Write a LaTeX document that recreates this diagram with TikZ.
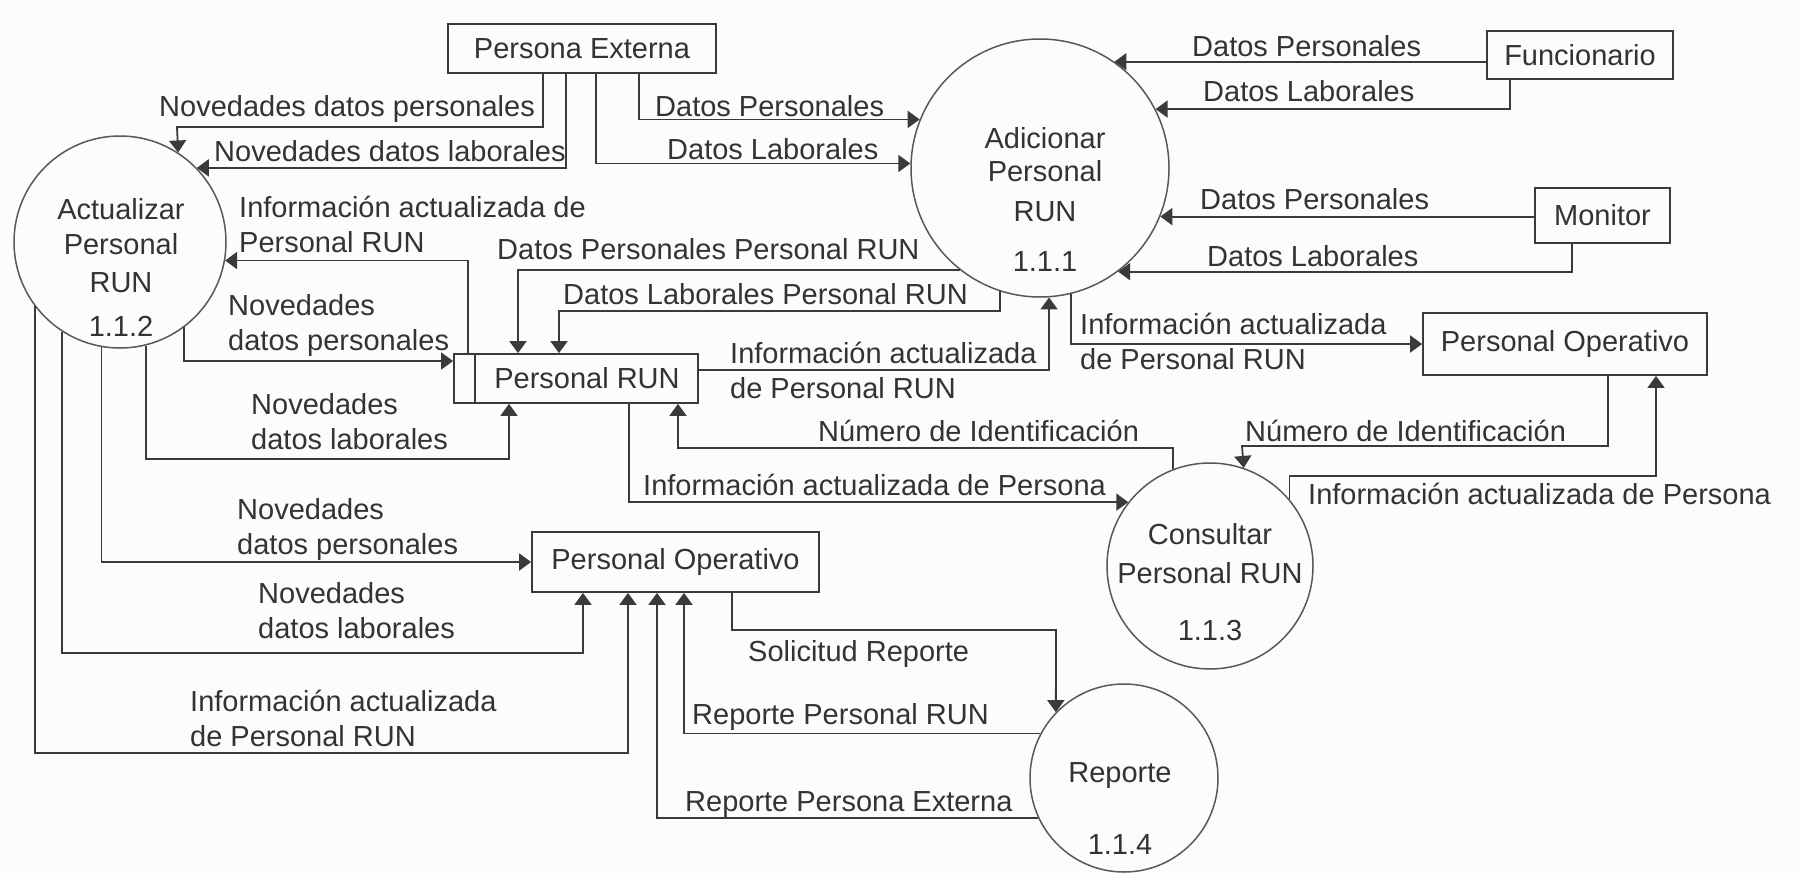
\documentclass[tikz,border=0pt]{standalone}
\usepackage{fontspec}
\setmainfont{Liberation Sans}
\usetikzlibrary{arrows.meta,calc}
\definecolor{ink}{HTML}{3A3A3A}
\definecolor{txt}{HTML}{333333}
\definecolor{bg}{HTML}{FCFCFC}
\begin{document}
\begin{tikzpicture}[x=1pt,y=-1pt,
  every node/.style={font=\fontsize{29}{35}\selectfont, text=txt},
  ent/.style={draw=ink, line width=1.8pt, rectangle, inner sep=0pt},
  proc/.style={draw=ink!85, line width=1.5pt, circle, inner sep=0pt},
  lbl/.style={inner sep=0pt, anchor=base west, align=left},
  ptext/.style={inner sep=0pt, anchor=base, align=center},
  flow/.style={draw=ink, line width=1.8pt, -{Triangle[length=12pt,width=17pt]}},
]
\useasboundingbox (0,0) rectangle (1800,873);
\fill[bg] (0,0) rectangle (1800,873);

% entities
\node[ent, minimum width=268pt, minimum height=49pt] (PE) at (582,48.5) {Persona Externa};
\node[ent, minimum width=186pt, minimum height=48pt] (Fun) at (1580,55) {Funcionario};
\node[ent, minimum width=135pt, minimum height=55pt] (Mon) at (1602.5,215.5) {Monitor};
\node[ent, minimum width=284pt, minimum height=62pt] (POR) at (1565,344) {Personal Operativo};
\node[ent, minimum width=287pt, minimum height=60pt] (POB) at (675.5,562) {Personal Operativo};
\node[ent, minimum width=244pt, minimum height=49pt] (Store) at (576,378.5) {\hspace*{22pt}Personal RUN};
\draw[ink, line width=1.8pt] ([xshift=22pt]Store.north west) -- ([xshift=22pt]Store.south west);

% processes
\node[proc, minimum size=212pt] (Act) at (120,242) {};
\node[proc, minimum size=258pt] (Adi) at (1040,168) {};
\node[proc, minimum size=206pt] (Con) at (1210,566) {};
\node[proc, minimum size=188pt] (Rep) at (1124,778) {};
% (base anchor of a multi-line node = baseline of its last line)
\node[ptext] (ActT) at (121,336) {Actualizar\\Personal\\[3pt]RUN\\[9pt]1.1.2};
\node[ptext] (AdiT) at (1045,271) {Adicionar\\[-2pt]Personal\\[5pt]RUN\\[15pt]1.1.1};
\node[ptext] (ConT) at (1210,640) {Consultar\\[4pt]Personal RUN\\[22pt]1.1.3};
\node[ptext] (RepT) at (1120,854) {Reporte\\[37pt]1.1.4};

% bend points
\coordinate (ndp) at (177,127);
\coordinate (dlp) at (559,311);
\coordinate (ndl) at (509,459);
\coordinate (ndl2) at (583,653);
\coordinate (iap) at (628,753);
\coordinate (ni) at (678,448);
\coordinate (ni2) at (1242,446);
\coordinate (iap2) at (1656,476);
\coordinate (sr) at (1056,630);

% flows
\draw[flow] ([xshift=-39pt]PE.south) |- (ndp) -- (Act.57.5);
\draw[flow] ([xshift=-16pt]PE.south) |- (Act.44.3);
\draw[flow] ([xshift=57pt]PE.south) |- (Adi.158.2);
\draw[flow] ([xshift=14pt]PE.south) |- (Adi.178.7);
\draw[flow] (Fun.west |- Adi.55.3) -- (Adi.55.3);
\draw[flow] ([xshift=-70pt]Fun.south) |- (Adi.27.7);
\draw[flow] (Mon.west |- Adi.-22.8) -- (Adi.-22.8);
\draw[flow] ([xshift=-30.5pt]Mon.south) |- (Adi.-53.7);
\draw[flow] (Adi.232.2) -| ([xshift=-58pt]Store.north);
\draw[flow] (Adi.252.4) |- (dlp) -- ([xshift=-17pt]Store.north);
\draw[flow] ([yshift=8.5pt]Store.east) -| (Adi.274);
\draw[flow] (Adi.284.8) |- (POR.west);
\draw[flow] ([xshift=-108pt]Store.north) |- (Act.-10.3);
\draw[flow] (Act.-53.5) |- ([yshift=17.5pt]Store.west);
\draw[flow] (Act.-76.4) |- (ndl) -- ([xshift=-67pt]Store.south);
\draw[flow] (Act.260.2) |- (POB.west);
\draw[flow] (Act.237.5) |- (ndl2) -- ([xshift=-92.5pt]POB.south);
\draw[flow] (Act.217.6) |- (iap) -- ([xshift=-47.5pt]POB.south);
\draw[flow] (Con.111.1) |- (ni) -- ([xshift=102pt]Store.south);
\draw[flow] ([xshift=53pt]Store.south) |- (Con.142.3);
\draw[flow] ([xshift=43pt]POR.south) |- (ni2) -- (Con.71.9);
\draw[flow] (Con.40.8) |- (iap2) -- ([xshift=91pt]POR.south);
\draw[flow] ([xshift=56.5pt]POB.south) |- (sr) -- (Rep.136.3);
\draw[flow] (Rep.152.1) -| ([xshift=8.5pt]POB.south);
\draw[flow] (Rep.205.2) -| ([xshift=-18.5pt]POB.south);

% labels (multi-line: position = baseline of last line)
\node[lbl] (l1) at (159,116) {Novedades datos personales};
\node[lbl] (l2) at (214,161) {Novedades datos laborales};
\node[lbl] (l3) at (655,116) {Datos Personales};
\node[lbl] (l4) at (667,159) {Datos Laborales};
\node[lbl] (l5) at (239,252) {Información actualizada de\\Personal RUN};
\node[lbl] (l6) at (497,259) {Datos Personales Personal RUN};
\node[lbl] (l7) at (563,304) {Datos Laborales Personal RUN};
\node[lbl] (l8) at (228,350) {Novedades\\datos personales};
\node[lbl] (l9) at (251,449) {Novedades\\datos laborales};
\node[lbl] (l10) at (237,554) {Novedades\\datos personales};
\node[lbl] (l11) at (258,638) {Novedades\\datos laborales};
\node[lbl] (l12) at (190,746) {Información actualizada\\de Personal RUN};
\node[lbl] (l13) at (730,398) {Información actualizada\\de Personal RUN};
\node[lbl] (l14) at (1080,369) {Información actualizada\\de Personal RUN};
\node[lbl] (l15) at (818,441) {Número de Identificación};
\node[lbl] (l16) at (643,495) {Información actualizada de Persona};
\node[lbl] (l17) at (1245,441) {Número de Identificación};
\node[lbl] (l18) at (1308,504) {Información actualizada de Persona};
\node[lbl] (l19) at (1192,56) {Datos Personales};
\node[lbl] (l20) at (1203,101) {Datos Laborales};
\node[lbl] (l21) at (1200,209) {Datos Personales};
\node[lbl] (l22) at (1207,266) {Datos Laborales};
\node[lbl] (l23) at (748,661) {Solicitud Reporte};
\node[lbl] (l24) at (692,724) {Reporte Personal RUN};
\node[lbl] (l25) at (685,811) {Reporte Persona Externa};
\end{tikzpicture}
\end{document}
